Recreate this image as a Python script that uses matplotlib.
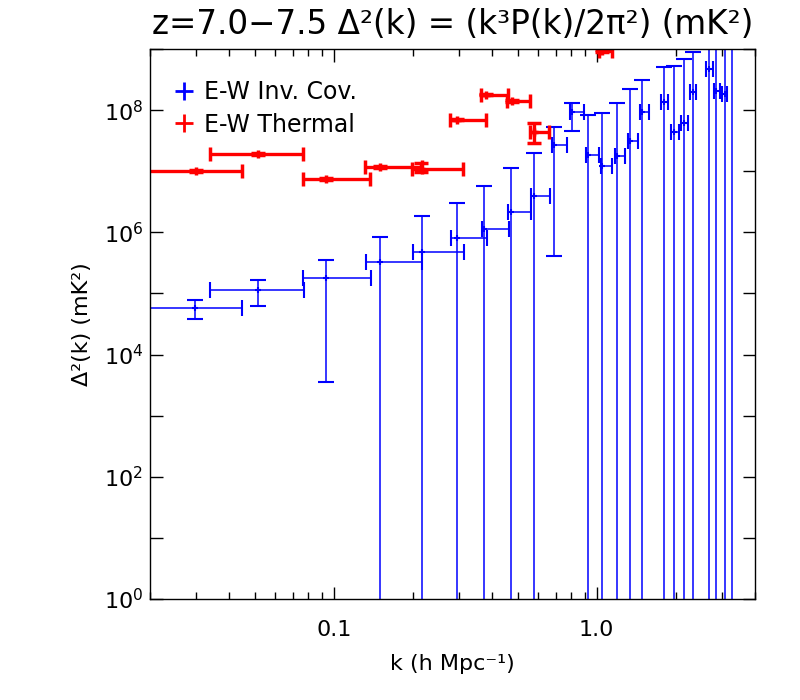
import numpy as np
import matplotlib
matplotlib.use("Agg")
import matplotlib.pyplot as plt
from matplotlib.lines import Line2D
from matplotlib.ticker import FixedLocator, FuncFormatter, LogLocator, NullFormatter, NullLocator

# E-W Inv. Cov. (blue): k centre, k bin edges, Delta^2 and its error bounds
inv_k = [0.0297, 0.0517, 0.0936, 0.150, 0.217, 0.2935, 0.374, 0.474, 0.578, 0.686,
         0.806, 0.9275, 1.051, 1.196, 1.340, 1.492, 1.798, 1.974, 2.149, 2.326,
         2.666, 2.852, 3.067, 3.262]
inv_klo = [0.015, 0.0338, 0.0762, 0.1323, 0.1997, 0.2795, 0.3666, 0.4603, 0.563, 0.6744,
           0.7943, 0.9113, 1.039, 1.1748, 1.3119, 1.4622, 1.7516, 1.9185, 2.099, 2.272,
           2.606, 2.795, 2.998, 3.20]
inv_khi = [0.0446, 0.0769, 0.1382, 0.2174, 0.312, 0.3817, 0.4628, 0.5612, 0.6627, 0.769,
           0.8925, 1.0212, 1.1444, 1.2776, 1.4319, 1.5768, 1.8685, 2.0501, 2.218, 2.379,
           2.761, 2.946, 3.121, 3.33]
inv_d = [5.68e4, 1.12e5, 1.78e5, 3.26e5, 4.75e5, 8.07e5, 1.12e6, 2.13e6, 3.98e6, 2.73e7,
         9.38e7, 1.83e7, 1.22e7, 1.80e7, 3.10e7, 9.49e7, 1.368e8, 4.46e7, 6.19e7, 1.973e8,
         4.63e8, 2.07e8, 1.85e8, 2.0e9]
inv_dlo = [3.75e4, 6.12e4, 3.61e3, 1e-2, 1e-2, 1e-2, 1e-2, 1e-2, 1e-2, 4.04e5,
           4.58e7, 1e-2, 1e-2, 1e-2, 1e-2, 1e-2, 1e-2, 1e-2, 1e-2, 1e-2,
           1e-2, 1e-2, 1e-2, 1e-2]
inv_dhi = [7.68e4, 1.634e5, 3.48e5, 8.28e5, 1.83e6, 2.99e6, 5.74e6, 1.133e7, 1.97e7, 5.26e7,
           1.30e8, 8.28e7, 9.03e7, 1.317e8, 2.21e8, 3.10e8, 5.07e8, 5.32e8, 6.85e8, 8.93e8,
           3.0e9, 3.0e9, 3.0e9, 6.0e9]

# E-W Thermal (red)
th_k = [0.0299, 0.0516, 0.0938, 0.150, 0.2149, 0.2935, 0.3797, 0.4768, 0.5795, 1.048]
th_klo = [0.015, 0.0338, 0.0761, 0.1316, 0.199, 0.2778, 0.3635, 0.4564, 0.5592, 1.024]
th_khi = [0.0446, 0.0767, 0.1375, 0.216, 0.3112, 0.3808, 0.4615, 0.5597, 0.6611, 1.14]
th_d = [1.02e7, 1.92e7, 7.56e6, 1.19e7, 1.10e7, 7.01e7, 1.80e8, 1.42e8, 4.41e7, 9.38e8]
th_dlo = [9.8e6, 1.85e7, 7.3e6, 1.15e7, 9.63e6, 6.8e7, 1.75e8, 1.37e8, 2.94e7, 9.0e8]
th_dhi = [1.06e7, 1.99e7, 7.8e6, 1.23e7, 1.35e7, 7.2e7, 1.85e8, 1.47e8, 6.12e7, 9.8e8]

ytick_exp = list(range(0, 10))
xtick_vals = [0.1, 1.0]
xtick_labels = ["0.1", "1.0"]

fig = plt.figure(figsize=(8, 7), dpi=100)
ax = fig.add_axes([150 / 800, 1 - 599 / 700, 605 / 800, 550 / 700])


def err(c, lo, hi):
    c, lo, hi = np.array(c), np.array(lo), np.array(hi)
    return [c - lo, hi - c]


ax.errorbar(inv_k, inv_d, xerr=err(inv_k, inv_klo, inv_khi), yerr=err(inv_d, inv_dlo, inv_dhi),
            fmt='+', color='#0000ff', ms=5, mew=1.5, elinewidth=1.1, capsize=6, capthick=1.1)
ax.errorbar(th_k, th_d, xerr=err(th_k, th_klo, th_khi), yerr=err(th_d, th_dlo, th_dhi),
            fmt='+', color='#ff0000', ms=6, mew=2.5, elinewidth=2.4, capsize=5, capthick=2.4)

ax.set_xscale('log')
ax.set_yscale('log')
ax.set_xlim(0.02, 4.0)
ax.set_ylim(1, 1e9)

ax.xaxis.set_major_locator(FixedLocator(xtick_vals))
ax.xaxis.set_major_formatter(FuncFormatter(lambda v, p: xtick_labels[xtick_vals.index(v)] if v in xtick_vals else ""))
ax.xaxis.set_minor_locator(LogLocator(base=10, subs=np.arange(2, 10)))
ax.xaxis.set_minor_formatter(NullFormatter())

ax.yaxis.set_major_locator(FixedLocator([10.0 ** e for e in ytick_exp]))
ax.yaxis.set_major_formatter(FuncFormatter(
    lambda v, p: r"$10^{%d}$" % round(np.log10(v)) if round(np.log10(v)) % 2 == 0 and v < 5e8 else ""))
ax.yaxis.set_minor_locator(NullLocator())

ax.tick_params(which='both', direction='in', top=True, right=True, width=1.0, colors='black')
ax.tick_params(axis='y', which='major', length=9, labelsize=16, pad=5)
ax.tick_params(axis='x', which='major', length=9, labelsize=16, pad=15)
ax.tick_params(axis='x', which='minor', length=5)
for s in ax.spines.values():
    s.set_linewidth(1.0)

ax.set_xlabel("k (h Mpc\u207b\u00b9)", fontsize=16, labelpad=10)
ax.set_ylabel("\u0394\u00b2(k) (mK\u00b2)", fontsize=16, labelpad=8)
ax.set_title("z=7.0\u22127.5 \u0394\u00b2(k) = (k\u00b3P(k)/2\u03c0\u00b2) (mK\u00b2)", fontsize=23.5, pad=11)

handles = [Line2D([], [], color='#0000ff', marker='+', ls='none', ms=13, mew=2),
           Line2D([], [], color='#ff0000', marker='+', ls='none', ms=13, mew=2)]
ax.legend(handles, ["E-W Inv. Cov.", "E-W Thermal"], loc='upper left', bbox_to_anchor=(0.025, 0.96),
          frameon=False, fontsize=17, handlelength=0.8, handletextpad=0.45, labelspacing=0.35,
          borderaxespad=0)

fig.savefig("out.png", dpi=100)
